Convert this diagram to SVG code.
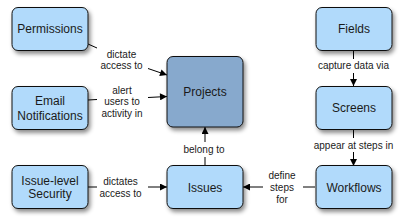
<svg xmlns="http://www.w3.org/2000/svg" width="403" height="223" viewBox="0 0 403 223">
<defs>
<filter id="sh" x="-20%" y="-20%" width="150%" height="150%">
<feDropShadow dx="2" dy="3" stdDeviation="2" flood-color="#000" flood-opacity="0.45"/>
</filter>
<marker id="ah" viewBox="0 0 10 10" refX="10" refY="5" markerWidth="9" markerHeight="7" markerUnits="userSpaceOnUse" orient="auto">
<path d="M0,0 L10,5 L0,10 Z" fill="#000"/>
</marker>
<style>
.box{fill:#b1dafb;stroke:#111;stroke-width:1;filter:url(#sh)}
.dark{fill:#87a9cd}
.nt{font-family:"Liberation Sans",Arial,sans-serif;font-size:12px;fill:#1a1a1a;text-anchor:middle}
.lt{font-family:"Liberation Sans",Arial,sans-serif;font-size:10px;fill:#1a1a1a;text-anchor:middle}
.ln{stroke:#000;stroke-width:1;fill:none}
.ar{marker-end:url(#ah)}
</style>
</defs>
<rect width="403" height="223" fill="#fff"/>
<g id="connectors">
<line class="ln" x1="88" y1="44" x2="97" y2="48"/>
<line class="ln ar" x1="148" y1="68.5" x2="167" y2="75"/>
<text class="lt" x="121.5" y="57.5">dictate</text>
<text class="lt" x="121.5" y="69">access to</text>
<line class="ln" x1="88" y1="100" x2="97" y2="99.5"/>
<line class="ln ar" x1="148" y1="97.5" x2="167" y2="96.5"/>
<text class="lt" x="122" y="93.5">alert</text>
<text class="lt" x="122" y="105">users to</text>
<text class="lt" x="122" y="116.5">activity in</text>
<line class="ln" x1="88" y1="187" x2="97" y2="187"/>
<line class="ln ar" x1="148" y1="187" x2="167" y2="187"/>
<text class="lt" x="120.5" y="185">dictates</text>
<text class="lt" x="120.5" y="196.5">access to</text>
<line class="ln" x1="205" y1="166" x2="205" y2="157"/>
<line class="ln ar" x1="205" y1="142" x2="205" y2="127"/>
<text class="lt" x="204" y="153">belong to</text>
<line class="ln" x1="353.5" y1="50" x2="353.5" y2="59"/>
<line class="ln ar" x1="353.5" y1="73" x2="353.5" y2="86"/>
<text class="lt" x="353.5" y="69">capture data via</text>
<line class="ln" x1="353.5" y1="129" x2="353.5" y2="138"/>
<line class="ln ar" x1="353.5" y1="152" x2="353.5" y2="166"/>
<text class="lt" x="353.5" y="148.5">appear at steps in</text>
<line class="ln" x1="315" y1="187" x2="303" y2="187"/>
<line class="ln ar" x1="263" y1="187" x2="243" y2="187"/>
<text class="lt" x="282" y="178.5">define</text>
<text class="lt" x="282" y="190.5">steps</text>
<text class="lt" x="282" y="202.5">for</text>
</g>
<g id="permissions">
<rect class="box" x="12" y="7.5" width="76" height="43" rx="6"/>
<text class="nt" x="50" y="33">Permissions</text>
</g>
<g id="email-notifications">
<rect class="box" x="12" y="86.5" width="76" height="43" rx="6"/>
<text class="nt" x="50" y="104.5">Email</text>
<text class="nt" x="50" y="119.5">Notifications</text>
</g>
<g id="issue-level-security">
<rect class="box" x="12" y="165.5" width="76" height="43" rx="6"/>
<text class="nt" x="50" y="184.5">Issue-level</text>
<text class="nt" x="50" y="198">Security</text>
</g>
<g id="projects">
<rect class="box dark" x="167" y="56.5" width="76" height="70.5" rx="6"/>
<text class="nt" x="205" y="96">Projects</text>
</g>
<g id="issues">
<rect class="box" x="167" y="165.5" width="76" height="43" rx="6"/>
<text class="nt" x="205" y="191.5">Issues</text>
</g>
<g id="fields">
<rect class="box" x="316" y="7.5" width="76" height="43" rx="6"/>
<text class="nt" x="354" y="33">Fields</text>
</g>
<g id="screens">
<rect class="box" x="316" y="86.5" width="76" height="43" rx="6"/>
<text class="nt" x="354" y="112">Screens</text>
</g>
<g id="workflows">
<rect class="box" x="316" y="165.5" width="76" height="43" rx="6"/>
<text class="nt" x="354" y="191.5">Workflows</text>
</g>
</svg>
